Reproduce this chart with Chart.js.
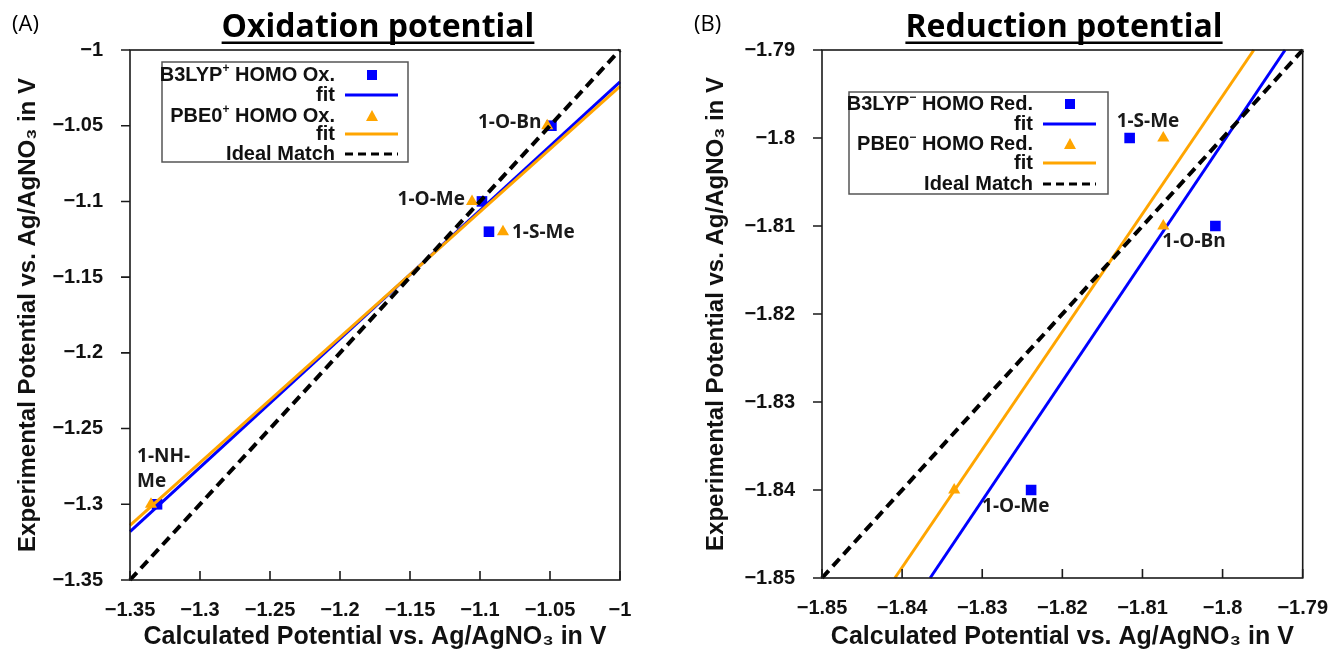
<!DOCTYPE html>
<html>
<head>
<meta charset="utf-8">
<script src="https://cdn.jsdelivr.net/npm/chart.js@4.4.0/dist/chart.umd.min.js"></script>
<style>
  body { margin: 0; background: #fff; }
  #wrap { position: relative; width: 1338px; height: 654px; }
  canvas { position: absolute; top: 0; }
</style>
</head>
<body>
<div id="wrap">
  <canvas id="oxChart" width="669" height="654" style="left:0"></canvas>
  <canvas id="redChart" width="669" height="654" style="left:669px"></canvas>
</div>
<script>
// (A) oxidation potential
const oxNames = ['1-O-Bn', '1-O-Me', '1-S-Me', '1-NH-Me'];
const oxExp = [-1.05, -1.10, -1.12, -1.30];
const oxB3lyp = [-1.049, -1.0986, -1.0936, -1.3307];
const oxPbe0 = [-1.052, -1.1057, -1.0836, -1.335];
const oxFitX = [-1.35, -1.0];
const oxB3lypFit = [-1.318, -1.021];
const oxPbe0Fit = [-1.314, -1.024];
const oxRange = [-1.35, -1.0, 0.05];

// (B) reduction potential
const redNames = ['1-S-Me', '1-O-Bn', '1-O-Me'];
const redExp = [-1.80, -1.81, -1.84];
const redB3lyp = [-1.8116, -1.8009, -1.8239];
const redPbe0 = [-1.8074, -1.8074, -1.8335];
const redFitY = [-1.85, -1.79];
const redB3lypFit = [-1.8365, -1.7922];
const redPbe0Fit = [-1.8409, -1.7961];
const redRange = [-1.85, -1.79, 0.01];

const BLUE = '#0000ff';
const ORANGE = '#ffa500';
const SANS = '"Liberation Sans", Arial, sans-serif';
const CAL = '"Open Sans", sans-serif';

const pts = (xs, ys) => xs.map((x, i) => ({ x: x, y: ys[i] }));
const fmt = v => String(parseFloat(v.toFixed(2))).replace('-', '\u2212');

function drawRich(ctx, segs, xRight, y, size) {
    const big = 'bold ' + size + 'px ' + SANS;
    const small = 'bold ' + Math.round(size * 0.62) + 'px ' + SANS;
    let w = 0;
    segs.forEach(s => { ctx.font = s[1] ? small : big; w += ctx.measureText(s[0]).width; });
    let x = xRight - w;
    ctx.textAlign = 'left';
    ctx.textBaseline = 'middle';
    segs.forEach(s => {
        ctx.font = s[1] ? small : big;
        ctx.fillText(s[0], x, s[1] ? y - size * 0.3 : y);
        x += ctx.measureText(s[0]).width;
    });
}

function drawMarker(ctx, kind, color, x, y) {
    ctx.save();
    ctx.fillStyle = color;
    ctx.strokeStyle = color;
    if (kind === 'rect') {
        ctx.fillRect(x - 5, y - 5, 10, 10);
    } else if (kind === 'tri') {
        ctx.beginPath();
        ctx.moveTo(x, y - 6);
        ctx.lineTo(x + 6, y + 5);
        ctx.lineTo(x - 6, y + 5);
        ctx.closePath();
        ctx.fill();
    } else {
        ctx.lineWidth = 3;
        ctx.setLineDash(kind === 'dash' ? [8, 5] : []);
        ctx.beginPath();
        ctx.moveTo(x - 27, y);
        ctx.lineTo(x + 26, y);
        ctx.stroke();
    }
    ctx.restore();
}

const decor = {
    id: 'decor',
    afterDraw(chart, args, opts) {
        const ctx = chart.ctx;
        const a = chart.chartArea;
        const xs = chart.scales.x, ys = chart.scales.y;
        ctx.save();
        // frame and ticks
        ctx.strokeStyle = '#1a1a1a';
        ctx.lineWidth = 1.6;
        ctx.strokeRect(a.left, a.top, a.right - a.left, a.bottom - a.top);
        ctx.beginPath();
        ys.ticks.forEach(t => {
            const py = ys.getPixelForValue(t.value);
            ctx.moveTo(a.left - 9, py); ctx.lineTo(a.left, py);
        });
        xs.ticks.forEach(t => {
            const px = xs.getPixelForValue(t.value);
            ctx.moveTo(px, a.bottom); ctx.lineTo(px, a.bottom - 9);
        });
        ctx.stroke();

        // point labels
        ctx.fillStyle = '#1a1a1a';
        ctx.font = 'bold 19px ' + CAL;
        ctx.textBaseline = 'middle';
        opts.labels.forEach(l => {
            const px = xs.getPixelForValue(l.x), py = ys.getPixelForValue(l.y);
            ctx.textAlign = l.o[2];
            l.text.split('\n').forEach((line, k) => {
                ctx.fillText(line, px + l.o[0], py + l.o[1] + k * 25);
            });
        });

        // legend
        const lg = opts.legend;
        const bx = a.left + lg.box[0], by = a.top + lg.box[1];
        ctx.fillStyle = '#fff';
        ctx.fillRect(bx, by, lg.box[2], lg.box[3]);
        ctx.strokeStyle = '#555';
        ctx.lineWidth = 1.5;
        ctx.strokeRect(bx, by, lg.box[2], lg.box[3]);
        ctx.fillStyle = '#111';
        lg.rows.forEach((r, i) => {
            const ry = by + lg.rowY[i];
            drawRich(ctx, r.text, bx + lg.textRight, ry, 20);
            drawMarker(ctx, r.kind, r.color, bx + lg.markX, ry);
        });

        // panel letter and title
        ctx.fillStyle = '#000';
        ctx.textAlign = 'left';
        ctx.textBaseline = 'alphabetic';
        ctx.font = '22px ' + CAL;
        ctx.fillText(opts.panel, opts.panelX, 31);
        ctx.font = 'bold 32px ' + CAL;
        ctx.textAlign = 'center';
        const cx = opts.titleX;
        ctx.fillText(opts.title, cx, 37);
        const tw = ctx.measureText(opts.title).width;
        ctx.fillRect(cx - tw / 2, 41.5, tw, 2.5);
        ctx.restore();
    }
};

function axis(range, title, isX, titlePad, size) {
    return {
        type: 'linear',
        position: isX ? 'bottom' : 'left',
        min: range[0],
        max: range[1],
        grid: { display: false },
        border: { display: false },
        ticks: {
            stepSize: range[2],
            color: '#111',
            padding: isX ? 10 : 19,
            font: { family: SANS, size: 20, weight: 'bold' },
            callback: v => fmt(v)
        },
        title: {
            display: true,
            text: title,
            color: '#111',
            font: { family: SANS, size: isX ? 25 : 24, weight: 'bold' },
            padding: titlePad
        },
        afterFit: s => { if (isX) s.height = size; else s.width = size; }
    };
}

function makeChart(id, cfg) {
    new Chart(document.getElementById(id), {
        type: 'scatter',
        data: { datasets: cfg.datasets },
        options: {
            responsive: false,
            animation: false,
            layout: { padding: cfg.padding },
            plugins: { legend: { display: false }, tooltip: { enabled: false }, decor: cfg.decor },
            scales: {
                x: axis(cfg.range, 'Calculated Potential vs. Ag/AgNO\u2083 in V', true, { top: 0, bottom: 2 }, cfg.xh),
                y: axis(cfg.range, 'Experimental Potential vs. Ag/AgNO\u2083 in V', false, { top: cfg.ytp, bottom: 0 }, cfg.yw)
            }
        },
        plugins: [decor]
    });
}

function lineSet(data, color, width, dash, order) {
    return { data: data, showLine: true, borderColor: color, borderWidth: width, borderDash: dash,
        pointRadius: 0, borderCapStyle: 'butt', order: order, clip: 2 };
}
function pointSet(data, color, style, r, order) {
    return { data: data, showLine: false, pointStyle: style, pointRadius: r, backgroundColor: color,
        borderColor: color, borderWidth: 0, order: order };
}

const legendRows = (sup, what) => [
    { kind: 'rect', color: BLUE, text: [['B3LYP'], [sup, 1], [' HOMO ' + what]] },
    { kind: 'line', color: BLUE, text: [['fit']] },
    { kind: 'tri', color: ORANGE, text: [['PBE0'], [sup, 1], [' HOMO ' + what]] },
    { kind: 'line', color: ORANGE, text: [['fit']] },
    { kind: 'dash', color: '#000', text: [['Ideal Match']] }
];

makeChart('oxChart', {
    range: oxRange,
    padding: { left: 0, right: 49, top: 50, bottom: 0 },
    xh: 74, yw: 130, ytp: 14,
    datasets: [
        pointSet(pts(oxB3lyp, oxExp), BLUE, 'rect', 7.5, 5),
        lineSet(pts(oxFitX, oxB3lypFit), BLUE, 3, [], 4),
        pointSet(pts(oxPbe0, oxExp), ORANGE, 'triangle', 7, 3),
        lineSet(pts(oxFitX, oxPbe0Fit), ORANGE, 3, [], 2),
        lineSet(pts([oxRange[0], oxRange[1]], [oxRange[0], oxRange[1]]), '#000', 4, [10, 6], 1)
    ],
    decor: {
        panel: '(A)', panelX: 12, title: 'Oxidation potential', titleX: 378,
        labels: [
            { text: oxNames[0], x: oxB3lyp[0], y: oxExp[0], o: [-10, -3, 'right'] },
            { text: oxNames[1], x: oxB3lyp[1], y: oxExp[1], o: [-17, -2, 'right'] },
            { text: oxNames[2], x: oxB3lyp[2], y: oxExp[2], o: [23, 1, 'left'] },
            { text: '1-NH-\nMe', x: oxB3lyp[3], y: oxExp[3], o: [-20, -48, 'left'] }
        ],
        legend: { box: [32, 12, 246, 100], rowY: [13, 33, 54, 72, 92], textRight: 173, markX: 210,
            rows: legendRows('+', 'Ox.') }
    }
});

makeChart('redChart', {
    range: redRange,
    padding: { left: 0, right: 28, top: 50, bottom: 0 },
    xh: 76, yw: 153, ytp: 33,
    datasets: [
        pointSet(pts(redB3lyp, redExp), BLUE, 'rect', 7.5, 5),
        lineSet(pts(redB3lypFit, redFitY), BLUE, 3, [], 4),
        pointSet(pts(redPbe0, redExp), ORANGE, 'triangle', 7, 3),
        lineSet(pts(redPbe0Fit, redFitY), ORANGE, 3, [], 2),
        lineSet(pts([redRange[0], redRange[1]], [redRange[0], redRange[1]]), '#000', 4, [10, 6], 1)
    ],
    decor: {
        panel: '(B)', panelX: 25, title: 'Reduction potential', titleX: 395,
        labels: [
            { text: redNames[0], x: redB3lyp[0], y: redExp[0], o: [-13, -16, 'left'] },
            { text: redNames[1], x: redB3lyp[1], y: redExp[1], o: [-53, 16, 'left'] },
            { text: redNames[2], x: redB3lyp[2], y: redExp[2], o: [-49, 17, 'left'] }
        ],
        legend: { box: [27, 42, 259, 102], rowY: [12, 32, 52, 71, 92], textRight: 184, markX: 221,
            rows: legendRows('\u2212', 'Red.') }
    }
});
</script>
</body>
</html>
